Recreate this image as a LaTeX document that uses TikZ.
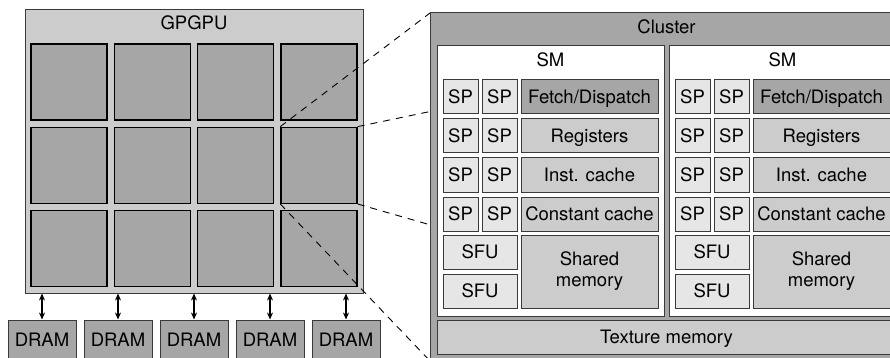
\documentclass[tikz,border=0pt]{standalone}
\usepackage{fontspec}
\setmainfont{TeX Gyre Heros}
\usetikzlibrary{arrows.meta,fit}
\definecolor{chipFill}{HTML}{CCCCCC}
\definecolor{coreFill}{HTML}{A6A6A6}
\definecolor{unitFill}{HTML}{E6E6E6}
\definecolor{edgeInk}{HTML}{3A3A3A}

\begin{document}
\begin{tikzpicture}[x=1pt,y=-1pt,>=Stealth,line join=miter]
\clip (0,0) rectangle (890,358);
\path[fill=white] (0,0) rectangle (890,358);
\tikzset{blk/.style={draw=edgeInk,line width=1pt,inner sep=0pt,font=\fontsize{18.5}{21}\selectfont,align=center},one/.style={text height=13pt,text depth=0pt},core/.style={blk,fill=coreFill,draw=black,line width=1.4pt,minimum width=76pt,minimum height=76pt},dram/.style={blk,one,fill=coreFill,minimum width=68pt,minimum height=40pt},sp/.style={blk,one,fill=unitFill,minimum width=35pt,minimum height=34pt},sfu/.style={blk,one,fill=unitFill,minimum width=74pt,minimum height=34pt},unit/.style={blk,one,fill=chipFill,minimum width=137pt,minimum height=34pt},lbl/.style={inner sep=0pt,font=\fontsize{18.5}{21}\selectfont,text height=13pt,text depth=0pt},link/.style={<->,line width=1.2pt,>={Stealth[length=7pt,width=6pt]}},zoomline/.style={draw=black,line width=0.9pt,dash pattern=on 7pt off 6pt}}
% the chip with its 3x4 grid of clusters
\node[blk,fill=chipFill,minimum width=338pt,minimum height=283pt] (gpu) at (194,151.5) {}; \node[lbl] (gpuname) at (194,23) {GPGPU};
\node[core] (t11) at (69,82) {}; \node[core] (t12) at (152.3,82) {}; \node[core] (t13) at (235.6,82) {}; \node[core] (t14) at (319,82) {};
\node[core] (t21) at (69,165.3) {}; \node[core] (t22) at (152.3,165.3) {}; \node[core] (t23) at (235.6,165.3) {}; \node[core] (t24) at (319,165.3) {};
\node[core] (t31) at (69,248.6) {}; \node[core] (t32) at (152.3,248.6) {}; \node[core] (t33) at (235.6,248.6) {}; \node[core] (t34) at (319,248.6) {};
% memory channels
\node[dram] (d1) at (42,340) {DRAM}; \node[dram] (d2) at (118,340) {DRAM}; \node[dram] (d3) at (194,340) {DRAM}; \node[dram] (d4) at (270,340) {DRAM}; \node[dram] (d5) at (346,340) {DRAM};
\draw[link] (d1.north) -- (d1.north |- gpu.south); \draw[link] (d2.north) -- (d2.north |- gpu.south); \draw[link] (d3.north) -- (d3.north |- gpu.south);
\draw[link] (d4.north) -- (d4.north |- gpu.south); \draw[link] (d5.north) -- (d5.north |- gpu.south);
% zoom lines, hidden behind the cluster where they meet it
\coordinate (clNW) at (430,13); \coordinate (clSE) at (903,361);
\draw[zoomline] (t24.north west) -- (clNW); \draw[zoomline] (t24.north east) -- (clNW -| clSE);
\draw[zoomline] (t24.south east) -- (clSE); \draw[zoomline] (t24.south west) -- (clNW |- clSE);
% one cluster, two SMs
\node[blk,fill=coreFill,fit=(clNW)(clSE)] (cl) {}; \node[lbl] (clname) at (666.5,27) {Cluster};
\node[blk,fill=white,minimum width=227pt,minimum height=270pt] (smA) at (550.5,181) {}; \node[lbl] (smAname) at (550.5,60) {SM};
\node[blk,fill=white,minimum width=227pt,minimum height=270pt] (smB) at (782.5,181) {}; \node[lbl] (smBname) at (782.5,60) {SM};
\node[sp] (a11) at (460.5,97) {SP}; \node[sp] (a12) at (499.5,97) {SP}; \node[unit,fill=coreFill] (aFetch) at (589.5,97) {Fetch/Dispatch};
\node[sp] (a21) at (460.5,136) {SP}; \node[sp] (a22) at (499.5,136) {SP}; \node[unit] (aReg) at (589.5,136) {Registers};
\node[sp] (a31) at (460.5,175) {SP}; \node[sp] (a32) at (499.5,175) {SP}; \node[unit] (aInst) at (589.5,175) {Inst. cache};
\node[sp] (a41) at (460.5,214) {SP}; \node[sp] (a42) at (499.5,214) {SP}; \node[unit] (aConst) at (589.5,214) {Constant cache};
\node[sfu] (aSfu1) at (480,252) {SFU}; \node[sfu] (aSfu2) at (480,291) {SFU};
\node[blk,fill=chipFill,minimum width=137pt,minimum height=73pt] (aShared) at (589.5,271.5) {Shared\\memory};
\node[sp] (b11) at (692.5,97) {SP}; \node[sp] (b12) at (731.5,97) {SP}; \node[unit,fill=coreFill] (bFetch) at (821.5,97) {Fetch/Dispatch};
\node[sp] (b21) at (692.5,136) {SP}; \node[sp] (b22) at (731.5,136) {SP}; \node[unit] (bReg) at (821.5,136) {Registers};
\node[sp] (b31) at (692.5,175) {SP}; \node[sp] (b32) at (731.5,175) {SP}; \node[unit] (bInst) at (821.5,175) {Inst. cache};
\node[sp] (b41) at (692.5,214) {SP}; \node[sp] (b42) at (731.5,214) {SP}; \node[unit] (bConst) at (821.5,214) {Constant cache};
\node[sfu] (bSfu1) at (712,252) {SFU}; \node[sfu] (bSfu2) at (712,291) {SFU};
\node[blk,fill=chipFill,minimum width=137pt,minimum height=73pt] (bShared) at (821.5,271.5) {Shared\\memory};
\node[blk,one,fill=chipFill,minimum width=459pt,minimum height=34pt] (tex) at (666.5,337) {Texture memory};
\end{tikzpicture}
\end{document}
